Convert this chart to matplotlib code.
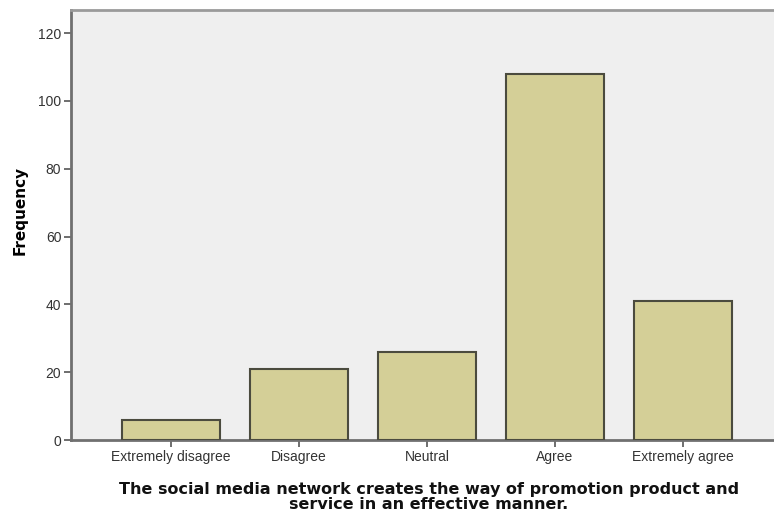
import matplotlib
matplotlib.use("Agg")
import matplotlib.pyplot as plt
import numpy as np

categories = ["Extremely disagree", "Disagree", "Neutral", "Agree", "Extremely agree"]
frequencies = [6, 21, 26, 108, 41]
yticks = [0, 20, 40, 60, 80, 100, 120]

plt.rcParams['font.family'] = ['Liberation Sans', 'DejaVu Sans']

fig = plt.figure(figsize=(7.74, 5.2), dpi=100)
fig.patch.set_facecolor('white')
ax = fig.add_axes([71/774, 80/520, 712/774, 430/520])
ax.set_facecolor('#efefef')

x = np.arange(len(categories))
ax.bar(x, frequencies, width=0.76, color='#d4cf97', edgecolor='#4b4b3e', linewidth=1.5, zorder=3)

ax.set_xlim(-0.78, 4.78)
ax.set_ylim(0, 126.8)
ax.set_yticks(yticks)
ax.set_yticklabels([str(v) for v in yticks], fontsize=10, color='#333333')
ax.set_xticks(x)
ax.set_xticklabels(categories, fontsize=10, color='#333333')

for side in ['left', 'bottom']:
    ax.spines[side].set_color('#707070')
    ax.spines[side].set_linewidth(2)
ax.spines['top'].set_color('#9a9a9a')
ax.spines['top'].set_linewidth(2)
ax.spines['right'].set_visible(False)
ax.tick_params(axis='both', length=5, width=1.2, color='#555555', pad=2)

ax.set_ylabel("Frequency", fontsize=11, fontweight='bold', family=['DejaVu Sans'])
ax.yaxis.set_label_coords(-71/712 + 28/712, (440 - 210) / 430)

fig.text(429/774, 1 - 497/520,
         "The social media network creates the way of promotion product and\nservice in an effective manner.",
         ha='center', va='center', fontsize=11.5, fontweight='bold', family=['DejaVu Sans'],
         linespacing=1.0, color='#111111')

fig.savefig("out.png", dpi=100)
